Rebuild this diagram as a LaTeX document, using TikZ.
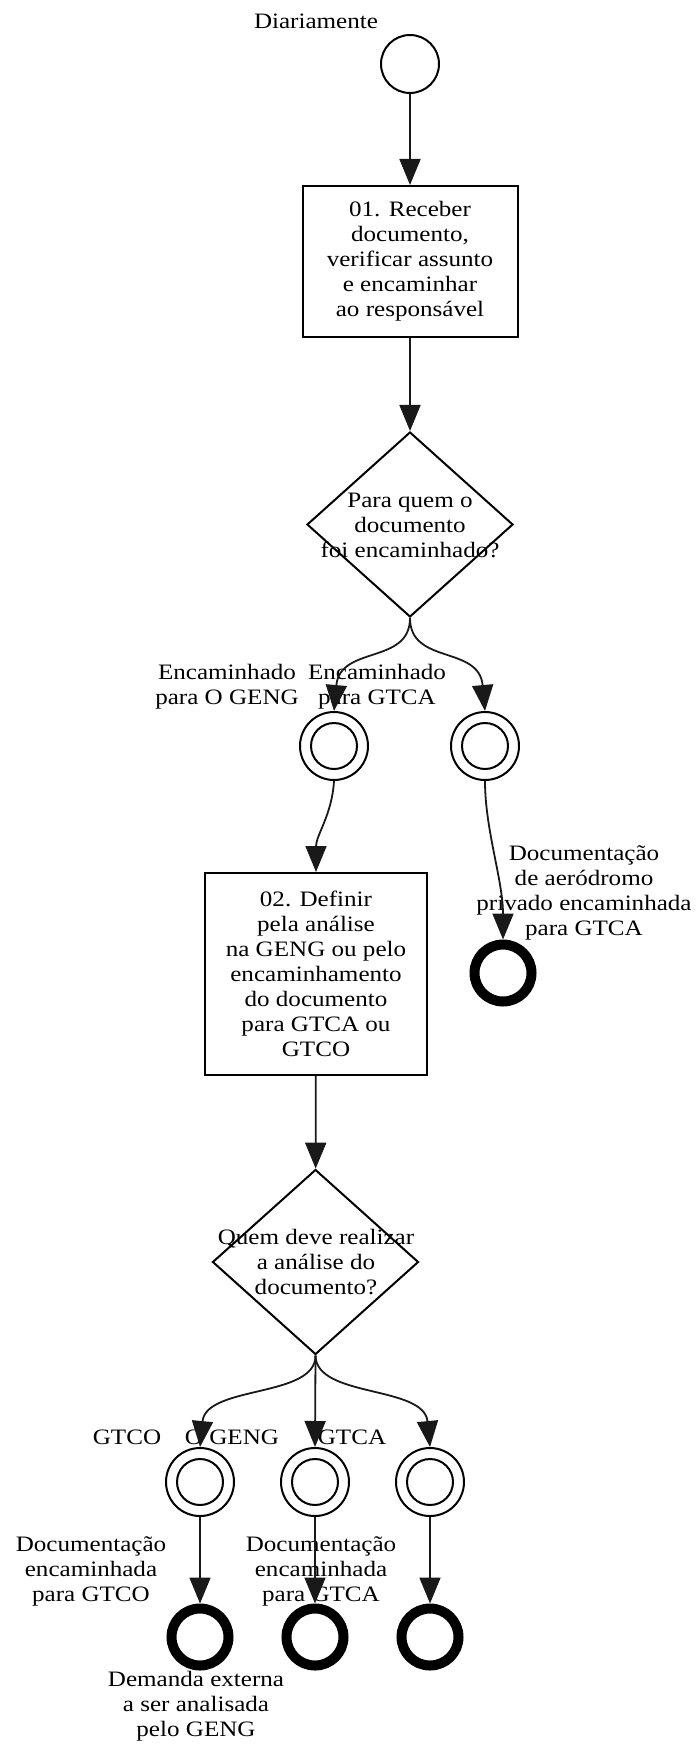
\documentclass[tikz,border=0pt]{standalone}
\usepackage{fontspec}
\setmainfont{Liberation Serif}[FakeStretch=1.14]
\usetikzlibrary{arrows.meta,shapes.geometric}
\begin{document}
\begin{tikzpicture}[x=1pt,y=-1pt,
  font=\fontsize{22}{25}\selectfont,
  flow/.style={line width=1.8pt, draw=black!90},
  arr/.style={flow, -{Triangle[length=26pt,width=21pt]}},
  taskbox/.style={draw, rectangle, line width=2pt, align=center, inner sep=0pt},
  decision/.style={draw, diamond, line width=2pt, minimum width=206pt, minimum height=185pt, inner sep=0pt},
  startev/.style={draw, circle, line width=2pt, minimum size=58pt, inner sep=0pt},
  midev/.style={draw, circle, line width=2pt, minimum size=68pt, inner sep=0pt,
    path picture={\draw[line width=2pt] (path picture bounding box.center) circle (23pt);}},
  endev/.style={draw, circle, line width=10pt, minimum size=57pt, inner sep=0pt},
  lbl/.style={align=center, inner sep=0pt}]
\useasboundingbox (0,0) rectangle (700,1744);

% start event
\node[startev] (start) at (410,64) {};
\node[lbl] (startlbl) at (316,21) {Diariamente};

% task 01
\node[taskbox, minimum width=215pt, minimum height=151pt] (t1) at (410,261.5)
  {01. Receber\\documento,\\verificar assunto\\e encaminhar\\ao responsável};

% first decision
\node[decision] (d1) at (410,524.5) {};
\node[lbl] (d1txt) at (410,525) {Para quem o\\documento\\foi encaminhado?};

% intermediate events after the first decision
\node[midev] (m1) at (334,746) {};
\node[midev] (m2) at (485,746) {};
\node[lbl] (m1lbl) at (227,687) {Encaminhado\\para O GENG};
\node[lbl] (m2lbl) at (377,687) {Encaminhado\\para GTCA};

% end event for the GTCA branch
\node[endev] (e1) at (503,973) {};
\node[lbl] (e1lbl) at (584,893) {Documentação\\de aeródromo\\privado encaminhada\\para GTCA};

% task 02
\node[taskbox, minimum width=222pt, minimum height=202pt] (t2) at (316,974)
  {02. Definir\\pela análise\\na GENG ou pelo\\encaminhamento\\do documento\\para GTCA ou\\GTCO};

% second decision
\node[decision] (d2) at (315.5,1262) {};
\node[lbl] (d2txt) at (316,1262) {Quem deve realizar\\a análise do\\documento?};

% intermediate events after the second decision
\node[midev] (m3) at (200,1482) {};
\node[midev] (m4) at (315,1482) {};
\node[midev] (m5) at (430,1482) {};
\node[lbl] (m3lbl) at (127,1437) {GTCO};
\node[lbl] (m4lbl) at (232,1437) {O GENG};
\node[lbl] (m5lbl) at (352,1437) {GTCA};

% end events
\node[endev] (e3) at (200,1637) {};
\node[endev] (e4) at (315,1637) {};
\node[endev] (e5) at (430,1637) {};
\node[lbl] (e3lbl) at (91,1571) {Documentação\\encaminhada\\para GTCO};
\node[lbl] (e4lbl) at (321,1571) {Documentação\\encaminhada\\para GTCA};
\node[lbl] (e5lbl) at (196,1706) {Demanda externa\\a ser analisada\\pelo GENG};

% connectors
\draw[arr] (start) -- (t1);
\draw[arr] (t1) -- (d1);
\draw[arr] (d1.south) .. controls (410,665) and (340,645) .. (m1.north);
\draw[arr] (d1.south) .. controls (410,665) and (479,645) .. (m2.north);
\draw[arr] (m1.south) .. controls (332,815) and (316,835) .. (t2.north);
\draw[arr] (m2.south) .. controls (485,830) and (503,880) .. (e1.north);
\draw[arr] (t2) -- (d2);
\draw[arr] (d2.south) .. controls (316,1398) and (206,1385) .. (m3.north);
\draw[arr] (d2.south) -- (m4.north);
\draw[arr] (d2.south) .. controls (316,1398) and (424,1385) .. (m5.north);
\draw[arr] (m3) -- (e3);
\draw[arr] (m4) -- (e4);
\draw[arr] (m5) -- (e5);
\end{tikzpicture}
\end{document}
